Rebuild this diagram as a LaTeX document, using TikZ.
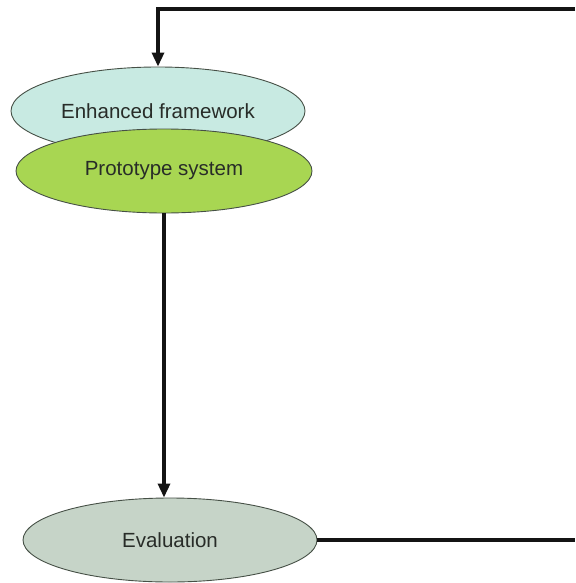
\documentclass[tikz,border=0pt]{standalone}
\usepackage{fontspec}
\setmainfont{Liberation Sans}
\usetikzlibrary{shapes.geometric,arrows.meta}
\definecolor{enhfill}{RGB}{200,234,226}
\definecolor{protofill}{RGB}{168,214,82}
\definecolor{evalfill}{RGB}{198,212,200}
\definecolor{rim}{RGB}{70,80,70}
\definecolor{ink}{RGB}{40,44,40}
\tikzset{
  stage/.style={ellipse, draw=rim, line width=0.9pt, inner sep=0pt,
    font=\fontsize{20.5}{24}\selectfont, text=ink},
  flow/.style={line width=3.2pt, draw=black!92,
    -{Triangle[length=14pt,width=12pt]}},
  link/.style={line width=3.2pt, draw=black!92}
}
\begin{document}
\begin{tikzpicture}[x=1pt,y=-1pt]
  \useasboundingbox (0,0) rectangle (575,583);
  % the three stages of the cycle
  \node[stage, fill=enhfill, minimum width=294pt, minimum height=88pt] (enh) at (158,111) {Enhanced framework};
  \node[stage, fill=protofill, minimum width=296pt, minimum height=84pt] (proto) at (164,171) {Prototype system};
  \node[stage, fill=evalfill, minimum width=294pt, minimum height=84pt] (eval) at (170,540) {Evaluation};
  % feedback loop ends at the page edge
  \coordinate (topright) at (575,9);
  \coordinate (topleft) at (158,9);
  \coordinate (botright) at (575,540);
  \draw[flow] (topright) -- (topleft) -- (enh.north);
  \draw[flow] (proto.south) -- (proto.south |- eval.north);
  \draw[link] (eval.east) -- (botright);
\end{tikzpicture}
\end{document}
